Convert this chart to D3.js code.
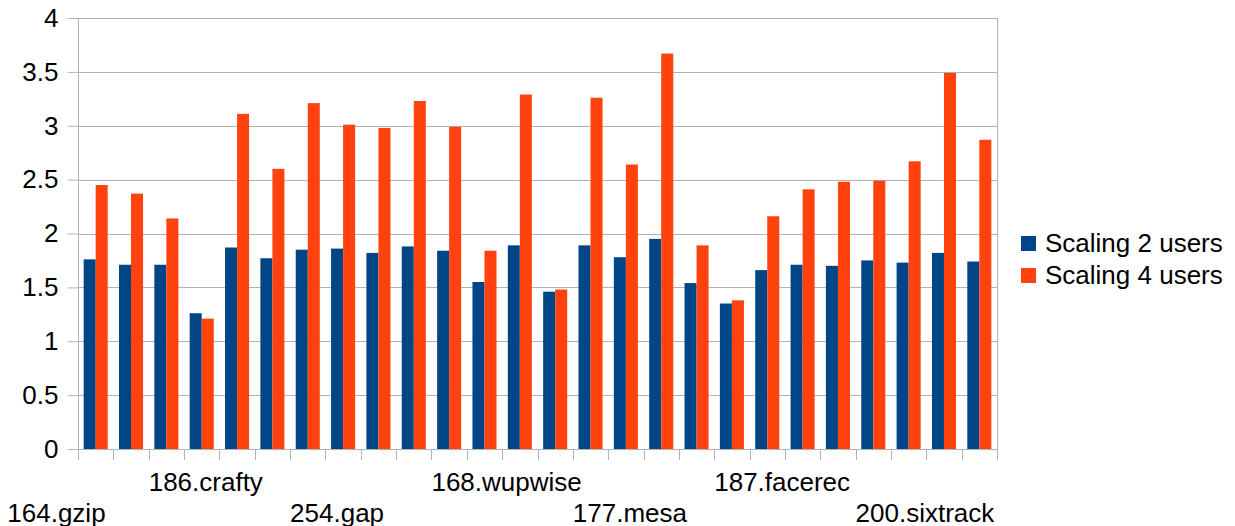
<!DOCTYPE html>
<html>
<head>
<meta charset="utf-8">
<script src="https://cdn.jsdelivr.net/npm/d3@7"></script>
<style>
  html, body { margin: 0; padding: 0; background: #fff; }
  svg { display: block; font-family: "Liberation Sans", Arial, sans-serif; }
</style>
</head>
<body>
<svg id="chart" width="1235" height="526"></svg>
<script>
const categories = ["164.gzip","175.vpr","176.gcc","181.mcf","186.crafty","197.parser","252.eon","253.perlbmk",
  "254.gap","255.vortex","256.bzip2","300.twolf","168.wupwise","171.swim","172.mgrid","173.applu",
  "177.mesa","178.galgel","179.art","183.equake","187.facerec","188.ammp","189.lucas","191.fma3d",
  "200.sixtrack","301.apsi"];
const seriesNames = ["Scaling 2 users", "Scaling 4 users"];
const scaling2 = [1.76,1.71,1.71,1.26,1.87,1.77,1.85,1.86,1.82,1.88,1.84,1.55,1.89,1.46,1.89,1.78,
  1.95,1.54,1.35,1.66,1.71,1.70,1.75,1.73,1.82,1.74];
const scaling4 = [2.45,2.37,2.14,1.21,3.11,2.60,3.21,3.01,2.98,3.23,2.99,1.84,3.29,1.48,3.26,2.64,
  3.67,1.89,1.38,2.16,2.41,2.48,2.49,2.67,3.49,2.87];
const yTicks = [0,0.5,1,1.5,2,2.5,3,3.5,4];
const colors = ["#004586", "#ff420e"];

(function () {
const svg = d3.select("#chart");
const pL = 78, pR = 997, pT = 18, pB = 449;
const gridColor = "#b3b3b3";

const x0 = d3.scaleBand().domain(categories).range([pL, pR]).padding(0);
const x1 = d3.scaleBand().domain(seriesNames).range([0, x0.bandwidth()]).paddingInner(0).paddingOuter(0.47);
const y = d3.scaleLinear().domain([0, 4]).range([pB, pT]);

// gridlines
svg.append("g").selectAll("line").data(yTicks).join("line")
  .attr("x1", pL).attr("x2", pR)
  .attr("y1", d => Math.round(y(d)) + 0.5).attr("y2", d => Math.round(y(d)) + 0.5)
  .attr("stroke", gridColor).attr("stroke-width", 1);

// right border
svg.append("line").attr("x1", pR + 0.5).attr("x2", pR + 0.5)
  .attr("y1", y(4)).attr("y2", y(0)).attr("stroke", gridColor);

// bars
const data = categories.map((c, i) => ({ cat: c, vals: [scaling2[i], scaling4[i]] }));
const groups = svg.append("g").selectAll("g").data(data).join("g")
  .attr("transform", d => `translate(${x0(d.cat)},0)`);
groups.selectAll("rect").data(d => d.vals.map((v, k) => ({ key: seriesNames[k], v, k })))
  .join("rect")
  .attr("x", d => x1(d.key))
  .attr("width", x1.bandwidth())
  .attr("y", d => y(d.v))
  .attr("height", d => y(0) - y(d.v))
  .attr("fill", d => colors[d.k]);

// y axis
const yAxis = svg.append("g").attr("transform", `translate(${pL + 0.5},0)`)
  .call(d3.axisLeft(y).tickValues(yTicks).tickFormat(d3.format("~g")).tickSize(11).tickPadding(9));
yAxis.select(".domain").attr("stroke", gridColor).attr("d", `M0,${pT}V${pB + 11}`);
yAxis.selectAll(".tick line").attr("stroke", gridColor);
yAxis.selectAll(".tick text").attr("font-size", 26).attr("fill", "#000")
  .attr("font-family", "Liberation Sans, Arial, sans-serif");

// x axis
const boundaries = categories.map(c => x0(c)).concat([x0.range()[1]]);
svg.append("line").attr("x1", pL).attr("x2", pR)
  .attr("y1", pB + 0.5).attr("y2", pB + 0.5).attr("stroke", gridColor);
svg.append("g").selectAll("line").data(boundaries).join("line")
  .attr("x1", d => Math.round(d) + 0.5).attr("x2", d => Math.round(d) + 0.5)
  .attr("y1", pB).attr("y2", pB + 11)
  .attr("stroke", gridColor);

// x labels (every 4th, staggered)
const shown = categories.map((c, i) => ({ c, i })).filter(d => d.i % 4 === 0);
svg.append("g").selectAll("text").data(shown).join("text")
  .attr("x", d => x0(d.c) - 2 * x0.step())
  .attr("y", d => (d.i / 4) % 2 === 0 ? 522 : 491)
  .attr("font-size", 26).attr("fill", "#000")
  .text(d => d.c);

// legend
const legend = svg.append("g").attr("transform", "translate(1021,236)");
const li = legend.selectAll("g").data(seriesNames).join("g")
  .attr("transform", (d, i) => `translate(0,${i * 32})`);
li.append("rect").attr("width", 15).attr("height", 15).attr("fill", (d, i) => colors[i]);
li.append("text").attr("x", 24).attr("y", 16).attr("font-size", 26).attr("fill", "#000").text(d => d);
})();
</script>
</body>
</html>
